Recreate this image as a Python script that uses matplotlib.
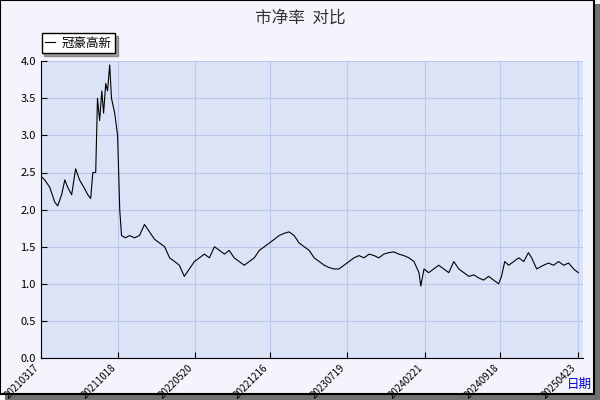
import matplotlib.pyplot as plt
from matplotlib.patches import Rectangle

plt.rcParams['font.family'] = ['Noto Sans CJK SC', 'DejaVu Sans']

day = [0, 11, 25, 39, 47, 58, 67, 75, 86, 97, 108, 120, 131, 139, 145, 153, 158, 164, 170, 175,
       181, 186, 192, 197, 206, 214, 220, 225, 236, 247, 261, 275, 289, 303, 317, 331, 345, 359,
       373, 386, 400, 414, 428, 442, 456, 470, 484, 498, 512, 525, 539, 553, 567, 581, 595, 609,
       623, 637, 651, 664, 678, 692, 706, 720, 734, 748, 762, 776, 790, 803, 817, 831, 845, 859,
       873, 887, 901, 915, 929, 942, 956, 970, 984, 998, 1012, 1026, 1040, 1054, 1059, 1068, 1081,
       1095, 1109, 1123, 1137, 1151, 1165, 1179, 1193, 1207, 1220, 1234, 1248, 1262, 1276, 1284,
       1293, 1304, 1318, 1332, 1346, 1359, 1368, 1382, 1401, 1415, 1429, 1443, 1457, 1471, 1485, 1498]
pb = [2.45, 2.4, 2.3, 2.1, 2.05, 2.2, 2.4, 2.3, 2.2, 2.55, 2.4, 2.3, 2.2, 2.15, 2.5, 2.5, 3.5, 3.2,
      3.6, 3.3, 3.7, 3.6, 3.95, 3.5, 3.3, 3.0, 2.0, 1.65, 1.62, 1.65, 1.62, 1.65, 1.8, 1.7, 1.6, 1.55,
      1.5, 1.35, 1.3, 1.25, 1.1, 1.2, 1.3, 1.35, 1.4, 1.35, 1.5, 1.45, 1.4, 1.45, 1.35, 1.3, 1.25,
      1.3, 1.35, 1.45, 1.5, 1.55, 1.6, 1.65, 1.68, 1.7, 1.65, 1.55, 1.5, 1.45, 1.35, 1.3, 1.25, 1.22,
      1.2, 1.2, 1.25, 1.3, 1.35, 1.38, 1.35, 1.4, 1.38, 1.35, 1.4, 1.42, 1.43, 1.4, 1.38, 1.35, 1.3,
      1.15, 0.97, 1.2, 1.15, 1.2, 1.25, 1.2, 1.15, 1.3, 1.2, 1.15, 1.1, 1.12, 1.08, 1.05, 1.1, 1.05,
      1.0, 1.1, 1.3, 1.25, 1.3, 1.35, 1.3, 1.42, 1.35, 1.2, 1.25, 1.28, 1.25, 1.3, 1.25, 1.28, 1.2, 1.15]
tick_days = [0, 215, 429, 639, 854, 1071, 1281, 1498]
tick_labels = ['20210317', '20211018', '20220520', '20221216', '20230719', '20240221', '20240918', '20250423']

fig = plt.figure(figsize=(6, 4), dpi=100)
fig.patch.set_facecolor('#f4f4fc')
fig.add_artist(Rectangle((0.008, 0.0), 0.992, 0.99, transform=fig.transFigure,
                         facecolor='#707070', edgecolor='none', zorder=-2))
fig.add_artist(Rectangle((0.0, 0.015), 0.99, 0.985, transform=fig.transFigure,
                         facecolor='#f4f4fc', edgecolor='black', linewidth=1.5, zorder=-1))

ax = fig.add_axes([0.068, 0.105, 0.903, 0.742])
ax.set_facecolor('#dce3f6')
ax.plot(day, pb, color='black', linewidth=0.8, label='冠豪高新')
ax.set_xlim(0, 1510)
ax.set_ylim(0, 4.0)
ax.set_yticks([0, 0.5, 1, 1.5, 2, 2.5, 3, 3.5, 4])
ax.set_yticklabels(['%.1f' % v for v in ax.get_yticks()], fontsize=8)
ax.set_xticks(tick_days)
ax.set_xticklabels(tick_labels, rotation=45, ha='right', fontsize=7)
ax.grid(color='#b8c8ec', linewidth=0.8)
for s in ['top', 'right']:
    ax.spines[s].set_visible(False)
ax.tick_params(direction='in', length=4)
fig.text(0.5, 0.955, '市净率  对比', fontsize=12, color='#333333', ha='center', va='center')
ax.legend(loc='lower left', bbox_to_anchor=(-0.01, 1.005), fontsize=9, frameon=True,
          fancybox=False, shadow=True, edgecolor='black', borderpad=0.3, handlelength=0.8,
          handletextpad=0.5)
fig.text(0.965, 0.03, '日期', color='#0000cc', fontsize=9, ha='center')

plt.savefig('out.png', dpi=100, facecolor=fig.get_facecolor())
